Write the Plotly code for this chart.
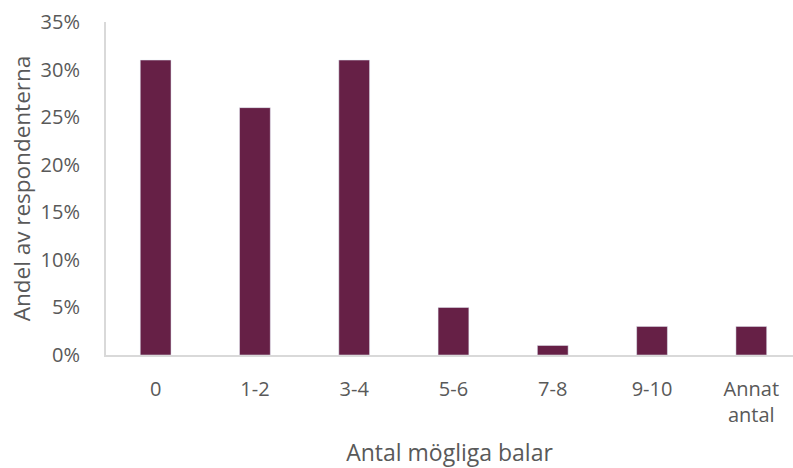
import plotly.graph_objects as go

categories = ["0", "1-2", "3-4", "5-6", "7-8", "9-10", "Annat<br>antal"]
values = [0.31, 0.26, 0.31, 0.05, 0.01, 0.03, 0.03]
y_ticks = [0, 0.05, 0.10, 0.15, 0.20, 0.25, 0.30, 0.35]

fig = go.Figure(go.Bar(x=categories, y=values, marker_color="#662046", width=0.31))

grey = "#595959"
fig.update_layout(
    width=793, height=468,
    margin=dict(l=106, r=0, t=22, b=113),
    plot_bgcolor="white", paper_bgcolor="white",
    font=dict(family="Open Sans", color=grey, size=20),
    showlegend=False,
)
fig.update_xaxes(
    range=[-0.5, 6.42], showline=True, linecolor="#d9d9d9", linewidth=2,
    ticks="", showgrid=False, ticklabelstandoff=15,
    title=dict(text="Antal mögliga balar", font=dict(size=23), standoff=22),
)
fig.update_yaxes(
    range=[0, 0.35], tickvals=y_ticks, tickformat=".0%",
    showline=True, linecolor="#d9d9d9", linewidth=2, showgrid=False,
    ticks="", ticklabelstandoff=20, zeroline=False,
    title=dict(text="Andel av respondenterna", font=dict(size=22.5), standoff=4),
)
fig.write_html("out.html")
